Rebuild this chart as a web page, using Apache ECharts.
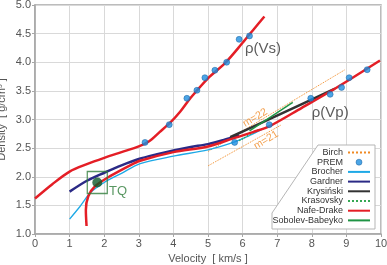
<!DOCTYPE html>
<html>
<head>
<meta charset="utf-8">
<script src="https://cdn.jsdelivr.net/npm/echarts@6/dist/echarts.min.js"></script>
<style>
  html, body { margin: 0; padding: 0; background: #fff; }
  #chart { width: 387px; height: 265px; }
</style>
</head>
<body>
<div id="chart"></div>
<script>
// velocity [km/s], density [g/cm3]
const nafeDrakeVs = [[0,1.62],[0.5,1.87],[1,2.09],[1.5,2.22],[2,2.33],[2.5,2.43],[3,2.53],[3.3,2.62],[3.6,2.78],[3.9,2.94],[4.2,3.14],[4.5,3.38],[5,3.72],[5.5,3.99],[6,4.34],[6.3,4.56],[6.63,4.8]];
const nafeDrakeVp = [[1.49,1.14],[1.47,1.42],[1.54,1.66],[1.73,1.83],[2.17,2.01],[2.75,2.2],[3.04,2.28],[4,2.43],[5,2.53],[5.73,2.67],[6.3,2.78],[6.8,2.89],[7.7,3.2],[8.7,3.55],[9.97,4.03]];
const gardner = [[1,1.74],[1.5,1.93],[2,2.07],[2.5,2.2],[3,2.31],[3.5,2.39],[4,2.46],[4.5,2.52],[5,2.57],[5.5,2.65],[5.9,2.72]];
const brocher = [[1,1.26],[1.3,1.48],[1.6,1.72],[2,1.9],[2.5,2.06],[3.04,2.23],[4,2.36],[5,2.47],[5.73,2.6],[6.2,2.72],[6.6,2.84]];
const krysinski = [[5.64,2.69],[6.79,3.01],[8.67,3.54]];
const krasovsky = [[5.9,2.63],[6.45,2.82]];
const sobolevBabeyko = [[6.2,2.8],[7.45,3.3]];
const birchM22 = [[5.0,2.44],[8.96,3.87]];
const birchM21 = [[5.0,2.19],[7.1,2.9]];
const premVs = [[3.18,2.6],[3.88,2.91],[4.39,3.37],[4.68,3.51],[4.91,3.73],[5.2,3.86],[5.54,4.0],[5.9,4.4],[6.2,4.46]];
const premVp = [[5.77,2.6],[6.77,2.91],[7.97,3.37],[8.53,3.44],[8.86,3.56],[9.08,3.73],[9.6,3.87]];
const tqPoint = [1.8, 1.9];
const legendNames = ['Birch', 'PREM', 'Brocher', 'Gardner', 'Krysiński', 'Krasovsky', 'Nafe-Drake', 'Sobolev-Babeyko'];

const FONT = 'Liberation Sans, Arial, sans-serif';
const RED = '#e41e26', NAVY = '#2b2a86', CYAN = '#1ea9e6', DARK = '#333333';
const ORANGE = '#f08a24', GREEN = '#1f9444', GREEN_DOT = '#35a853';

const chart = echarts.init(document.getElementById('chart'));

function line(name, data, color, width, type, z) {
  return {
    name, type: 'line', data, symbol: 'none', smooth: 0.3, z: z || 2,
    lineStyle: { color, width, type: type || 'solid' },
    itemStyle: { color },
    emphasis: { disabled: true }
  };
}

function textMark(text, pos, color, size, rotate, align) {
  return {
    type: 'scatter', data: [pos], symbolSize: 0, silent: true, z: 6,
    label: {
      show: true, formatter: text, position: 'inside', color,
      fontSize: size, fontFamily: FONT, rotate: rotate || 0, align: align || 'left'
    }
  };
}

// line entries: hide the dot that line legend icons carry
const legendData = legendNames.map(n => n === 'PREM'
  ? { name: n, icon: 'circle', itemStyle: { borderColor: '#165c9c', borderWidth: 0.6 } }
  : { name: n, itemStyle: { opacity: 0 } });

const option = {
  animation: false,
  grid: {
    left: 35, right: 6, top: 5, bottom: 31, outerBoundsMode: 'none',
    show: true, borderColor: '#a6a6a6', borderWidth: 1.5
  },
  xAxis: {
    type: 'value', min: 0, max: 10, interval: 1,
    name: 'Velocity  [ km/s ]', nameLocation: 'middle', nameGap: 19, nameMoveOverlap: false,
    nameTextStyle: { color: '#555', fontSize: 11, fontFamily: FONT },
    axisLine: { lineStyle: { color: '#a6a6a6', width: 1.5 } },
    axisTick: { show: true, length: 3, lineStyle: { color: '#a6a6a6' } },
    axisLabel: { color: '#555', fontSize: 11, fontFamily: FONT, margin: 4 },
    splitLine: { lineStyle: { color: '#d9d9d9' } }
  },
  yAxis: {
    type: 'value', min: 1, max: 5, interval: 0.5,
    name: 'Density  [ g/cm³ ]', nameLocation: 'middle', nameGap: 28, nameMoveOverlap: false,
    nameTextStyle: { color: '#555', fontSize: 11, fontFamily: FONT },
    axisLine: { show: true, lineStyle: { color: '#a6a6a6', width: 1.5 } },
    axisTick: { show: true, length: 3, lineStyle: { color: '#a6a6a6' } },
    axisLabel: { color: '#555', fontSize: 11, fontFamily: FONT, margin: 4, formatter: v => v.toFixed(1) },
    splitLine: { lineStyle: { color: '#d9d9d9' } }
  },
  legend: {
    data: legendData,
    orient: 'vertical', align: 'right',
    right: 16, top: 148, padding: 0, itemWidth: 22, itemHeight: 6, itemGap: 0.7,
    textStyle: { color: '#333', fontSize: 9, fontFamily: FONT },
    selectedMode: false
  },
  graphic: [{
    type: 'polygon', z: 4,
    shape: { points: [[318, 145], [375, 145], [375, 229], [272, 229], [272, 213]] },
    style: { fill: '#fff', stroke: '#b5b5b5', lineWidth: 1 }
  }],
  series: [
    line('Birch', birchM22, ORANGE, 1, 'dotted', 2),
    line('Birch', birchM21, ORANGE, 1, 'dotted', 2),
    line('Brocher', brocher, CYAN, 1.3, 'solid', 2),
    line('Gardner', gardner, NAVY, 2.5, 'solid', 2),
    line('Krysiński', krysinski, DARK, 2.5, 'solid', 2),
    line('Krasovsky', krasovsky, GREEN_DOT, 1.5, 'dotted', 3),
    line('Sobolev-Babeyko', sobolevBabeyko, GREEN, 1.5, 'solid', 3),
    line('Nafe-Drake', nafeDrakeVp, RED, 2.5, 'solid', 3),
    line('Nafe-Drake', nafeDrakeVs, RED, 2.5, 'solid', 3),
    {
      name: 'PREM', type: 'scatter', data: premVs.concat(premVp), symbol: 'circle', symbolSize: 6, z: 5,
      itemStyle: { color: '#1e8fe0', borderColor: '#165c9c', borderWidth: 0.6 }
    },
    {
      type: 'scatter', data: [tqPoint], symbol: 'rect', symbolSize: [20, 22], z: 4, silent: true,
      itemStyle: { color: 'rgba(0,0,0,0)', borderColor: '#2f7d3b', borderWidth: 1.3 }
    },
    {
      type: 'scatter', data: [tqPoint], symbol: 'circle', symbolSize: 10, z: 5, silent: true,
      itemStyle: { color: '#0f5a2a' }
    },
    textMark('TQ', [2.14, 1.74], '#2f7d3b', 13),
    textMark('ρ(Vs)', [6.07, 4.23], '#333', 15),
    textMark('ρ(Vp)', [8.0, 3.11], '#333', 15),
    textMark('m=22', [6.36, 3.03], ORANGE, 10.5, 31, 'center'),
    textMark('m=21', [6.68, 2.64], ORANGE, 10.5, 31, 'center')
  ]
};

chart.setOption(option);
</script>
</body>
</html>
